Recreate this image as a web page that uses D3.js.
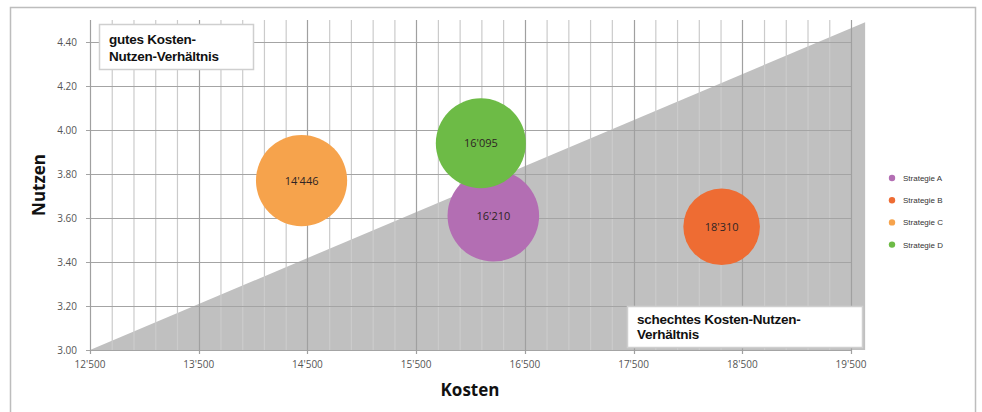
<!DOCTYPE html>
<html><head><meta charset="utf-8">
<script src="https://cdn.jsdelivr.net/npm/d3@7"></script>
<style>body{margin:0;background:#fff;}svg{display:block;}</style>
</head><body>
<svg id="c" width="982" height="412"></svg>
<script>
const strategies = ["Strategie A","Strategie B","Strategie C","Strategie D"];
const kosten = [16210, 18310, 14446, 16095];
const nutzen = [3.61, 3.56, 3.77, 3.94];
const bubbleSize = [45.8, 38.3, 45.6, 45];
const colors = ["#B36EB3","#EE6C33","#F6A34C","#6DBB46"];
const xTicks = [12500,13500,14500,15500,16500,17500,18500,19500];
const yTicks = [3.0,3.2,3.4,3.6,3.8,4.0,4.2,4.4];
const triangle = [[12500,3.0],[19630,4.49],[19630,3.0]];

const svg = d3.select("#c");
const x = d3.scaleLinear().domain([12500,19500]).range([90,851]);
const y = d3.scaleLinear().domain([3.0,4.5]).range([350,20]);
const fmt = v => { const s = String(v); return s.slice(0,-3)+"'"+s.slice(-3); };

// outer frame
svg.append("rect").attr("x",10.5).attr("y",7.5).attr("width",965).attr("height",420)
  .attr("fill","none").attr("stroke","#bdbdbd").attr("stroke-width",1.5);

// triangle
svg.append("path").attr("d", d3.line().x(d=>x(d[0])).y(d=>y(d[1]))(triangle)+"Z")
  .attr("fill","#c0c0c0");

// minor vertical grid
const minor = d3.range(12500,19501,200).filter(v => (v-12500)%1000!==0);
svg.append("g").selectAll("line").data(minor).join("line")
  .attr("x1",d=>x(d)+0.5).attr("x2",d=>x(d)+0.5).attr("y1",y(4.5)).attr("y2",y(3.0))
  .attr("stroke","#cbcbcb").attr("stroke-width",1.2);
// horizontal grid
svg.append("g").selectAll("line").data(yTicks).join("line")
  .attr("x1",x(12500)-4).attr("x2",x(19500)).attr("y1",d=>Math.round(y(d))+0.5).attr("y2",d=>Math.round(y(d))+0.5)
  .attr("stroke","#a4a4a4").attr("stroke-width",1.2);
// major vertical grid
svg.append("g").selectAll("line").data(xTicks).join("line")
  .attr("x1",d=>Math.round(x(d))+0.5).attr("x2",d=>Math.round(x(d))+0.5).attr("y1",y(4.5)).attr("y2",y(3.0)+4)
  .attr("stroke","#a0a0a0").attr("stroke-width",1.2);

// tick labels
svg.append("g").selectAll("text").data(xTicks).join("text")
  .attr("x",d=>x(d)).attr("y",368).attr("text-anchor","middle")
  .attr("font-family","Open Sans, sans-serif").attr("font-size",10).attr("fill","#555")
  .text(fmt);
svg.append("g").selectAll("text").data(yTicks).join("text")
  .attr("x",77).attr("y",d=>y(d)+3.5).attr("text-anchor","end")
  .attr("font-family","Open Sans, sans-serif").attr("font-size",10).attr("fill","#555")
  .text(d=>d.toFixed(2));

// axis titles
svg.append("text").attr("x",470).attr("y",396).attr("text-anchor","middle")
  .attr("font-family","Open Sans, sans-serif").attr("font-weight","bold").attr("font-size",17).attr("fill","#111")
  .text("Kosten");
svg.append("text").attr("transform","translate(45,185) rotate(-90)").attr("text-anchor","middle")
  .attr("font-family","Open Sans, sans-serif").attr("font-weight","bold").attr("font-size",17).attr("fill","#111")
  .text("Nutzen");

// bubbles
const g = svg.append("g");
g.selectAll("circle").data(strategies).join("circle")
  .attr("cx",(d,i)=>x(kosten[i])).attr("cy",(d,i)=>y(nutzen[i])).attr("r",(d,i)=>bubbleSize[i])
  .attr("fill",(d,i)=>colors[i]);
g.selectAll("text").data(strategies).join("text")
  .attr("x",(d,i)=>x(kosten[i])).attr("y",(d,i)=>y(nutzen[i])+4).attr("text-anchor","middle")
  .attr("font-family","Open Sans, sans-serif").attr("font-size",11).attr("fill","#2e2424")
  .text((d,i)=>fmt(kosten[i]));

// text boxes
function box(x0,y0,w,h,lines,ty){
  svg.append("rect").attr("x",x0+0.5).attr("y",y0+0.5).attr("width",w).attr("height",h)
    .attr("fill","#fff").attr("stroke","#cfcfcf").attr("stroke-width",1.5);
  lines.forEach((t,i)=>svg.append("text").attr("x",x0+10).attr("y",ty[i])
    .attr("font-family","Liberation Sans, Arial, sans-serif").attr("font-weight","bold")
    .attr("font-size",13.5).attr("letter-spacing",-0.25).attr("fill","#111").text(t));
}
box(99,24,154,45,["gutes Kosten-","Nutzen-Verhältnis"],[44,61]);
box(627,306,235,41,["schechtes Kosten-Nutzen-","Verhältnis"],[324,339]);

// legend
const lg = svg.append("g");
strategies.forEach((s,i)=>{
  const ly = 178 + i*22.2;
  lg.append("circle").attr("cx",892).attr("cy",ly).attr("r",3.2).attr("fill",colors[i]);
  lg.append("text").attr("x",903).attr("y",ly+3).attr("font-family","Liberation Sans, Arial, sans-serif")
    .attr("font-size",8).attr("fill","#333").text(s);
});
</script>
</body></html>
